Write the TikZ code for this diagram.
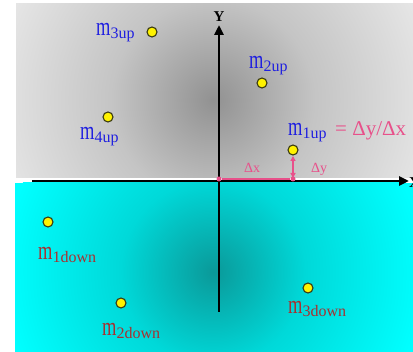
\documentclass[tikz,border=0pt]{standalone}
\usepackage{fontspec}
\setmainfont{Liberation Serif}
\usetikzlibrary{arrows.meta}
\definecolor{lblue}{HTML}{2020E0}
\definecolor{lred}{HTML}{A83030}
\definecolor{lpink}{HTML}{E8508A}
\definecolor{dotline}{HTML}{3A3A10}
\definecolor{gedge}{HTML}{E8E8E8}
\definecolor{cedge}{HTML}{00FFFF}
\pgfdeclareradialshading{grayrad}{\pgfpoint{0bp}{0bp}}{rgb(0bp)=(0.57,0.57,0.57); rgb(11bp)=(0.77,0.77,0.77); rgb(25bp)=(0.91,0.91,0.91); rgb(50bp)=(0.91,0.91,0.91)}
\pgfdeclareradialshading{cyanrad}{\pgfpoint{0bp}{0bp}}{rgb(0bp)=(0.04,0.6,0.6); rgb(11bp)=(0,0.85,0.85); rgb(25bp)=(0,1,1); rgb(50bp)=(0,1,1)}
\newcommand{\mlab}[1]{\scalebox{1}[1.4]{\fontsize{18.5}{18.5}\selectfont m}\raisebox{-2.5pt}{\fontsize{16}{16}\selectfont #1}}
\tikzset{
  pt/.style={circle, draw=dotline, fill=yellow, line width=1.1pt, minimum size=10pt, inner sep=0pt},
  pdot/.style={circle, fill=lpink, minimum size=5pt, inner sep=0pt},
  lab/.style={anchor=base west, inner sep=0pt},
  axis/.style={line width=2.6pt, -{Triangle[length=10pt,width=9pt]}},
  pinkline/.style={lpink, line width=1.4pt}
}
\begin{document}
\begin{tikzpicture}[x=1pt,y=-1pt]
\useasboundingbox (0,0) rectangle (413,352);
\clip (0,0) rectangle (413,352);
\fill[white] (0,0) rectangle (413,352);
% gray upper region
\begin{scope}
  \clip (16,4) rectangle (413,178);
  \fill[gedge] (16,4) rectangle (413,178);
  \shade[shading=grayrad] (213,100) circle[radius=230pt];
\end{scope}
% cyan lower region
\begin{scope}
  \clip (15,183) rectangle (413,352);
  \fill[cedge] (15,183) rectangle (413,352);
  \shade[shading=cyanrad] (213,272) circle[radius=210pt];
\end{scope}
% axes
\coordinate (xs) at (32,181);
\coordinate (xe) at (409,181);
\coordinate (ys) at (219,312);
\coordinate (ye) at (219,25);
\draw[axis] (xs) -- (xe);
\draw[axis] (ys) -- (ye);
\node[anchor=base, inner sep=0pt, font=\fontsize{15}{15}\selectfont\bfseries] (ylab) at (219,22) {Y};
\node[anchor=west, inner sep=0pt, font=\fontsize{15}{15}\selectfont\bfseries] (xlab) at (409,183) {X};
% pink delta construction
\node[pdot] (o) at (219,179) {};
\node[pdot] (q) at (293,179) {};
\draw[pinkline] (o) -- (q);
\node[pt] (p1) at (293,150) {};
\coordinate (qa) at (293,178);
\coordinate (pa) at (293,156);
\draw[pinkline, {Triangle[length=5pt,width=5pt]}-{Triangle[length=5pt,width=5pt]}] (pa) -- (qa);
\node[lab, text=lpink, font=\fontsize{14}{14}\selectfont] (dx) at (244,173) {Δx};
\node[lab, text=lpink, font=\fontsize{14}{14}\selectfont] (dy) at (311,173) {Δy};
% points
\node[pt] (p3) at (152,32) {};
\node[pt] (p4) at (108,117) {};
\node[pt] (p2) at (262,83) {};
\node[pt] (d1) at (48,222) {};
\node[pt] (d2) at (121,303) {};
\node[pt] (d3) at (308,288) {};
% labels
\node[lab, text=lblue] (l3) at (96,36) {\mlab{3up}};
\node[lab, text=lblue] (l4) at (80,140) {\mlab{4up}};
\node[lab, text=lblue] (l2) at (249,69) {\mlab{2up}};
\node[lab, text=lblue] (l1) at (288,136) {\mlab{1up}};
\node[lab, text=lpink, font=\fontsize{21}{21}\selectfont] (eq) at (335,136) {= Δy/Δx};
\node[lab, text=lred] (ld1) at (38,260) {\mlab{1down}};
\node[lab, text=lred] (ld2) at (102,336) {\mlab{2down}};
\node[lab, text=lred] (ld3) at (288,314) {\mlab{3down}};
\end{tikzpicture}
\end{document}
